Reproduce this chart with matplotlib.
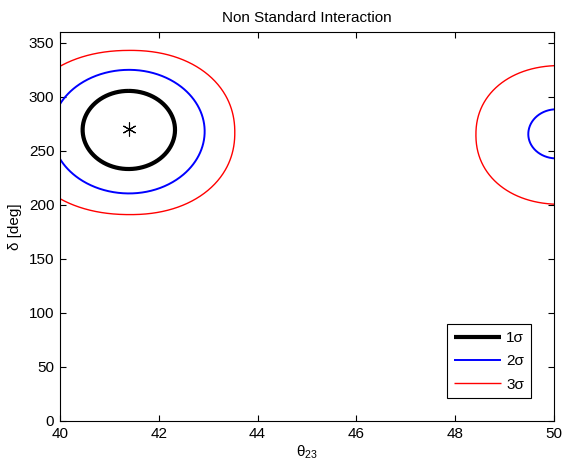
import numpy as np
import matplotlib
matplotlib.use("Agg")
import matplotlib.pyplot as plt

plt.rcParams['font.family'] = ['Liberation Sans', 'DejaVu Sans']
plt.rcParams['mathtext.default'] = 'regular'
plt.rcParams['font.size'] = 11

# contour shapes: (x-center, y-center, x-left, x-right, y-down, y-up semi-axes)
labels = ['1σ', '2σ', '3σ']
colors = ['black', 'blue', 'red']
widths = [3.0, 1.4, 1.0]
left_region = [
    (41.39, 269.5, 0.93, 0.94, 36.3, 36.0),
    (41.40, 268.0, 1.56, 1.53, 57.4, 57.0),
    (41.42, 267.0, 2.25, 2.12, 76.0, 76.0),
]
right_region = [
    None,
    (50.05, 265.5, 0.57, 0.57, 22.5, 23.0),
    (50.15, 265.0, 1.73, 1.73, 64.5, 64.0),
]
exponents = [2.0, 2.0, 2.15]
best_fit = (41.4, 270.0)

def shape(p, n, m=600):
    cx, cy, al, ar, bd, bu = p
    t = np.linspace(np.pi / 2, np.pi / 2 + 2 * np.pi, m)
    c, s = np.cos(t), np.sin(t)
    cx_ = np.sign(c) * np.abs(c) ** (2.0 / n)
    sy_ = np.sign(s) * np.abs(s) ** (2.0 / n)
    x = cx + np.where(c >= 0, ar, al) * cx_
    y = cy + np.where(s >= 0, bu, bd) * sy_
    return x, y

fig = plt.figure(figsize=(5.65, 4.66), dpi=100)
ax = fig.add_axes([0.106, 0.0966, 0.8745, 0.8347])

for i in range(3):
    x, y = shape(left_region[i], exponents[i])
    ax.plot(x, y, color=colors[i], lw=widths[i], label=labels[i],
            solid_capstyle='butt', solid_joinstyle='round')
    if right_region[i] is not None:
        x, y = shape(right_region[i], exponents[i])
        ax.plot(x, y, color=colors[i], lw=widths[i],
                solid_capstyle='butt', solid_joinstyle='round')

ax.plot([best_fit[0]], [best_fit[1]], marker=(6, 2, 0), color='black', ms=10, mew=0.8)

ax.set_xlim(40, 50)
ax.set_ylim(0, 360)
ax.set_xticks(np.arange(40, 51, 2))
ax.set_yticks(np.arange(0, 351, 50))
ax.tick_params(direction='in', top=True, right=True, length=4, labelsize=11, pad=4)
ax.set_xlabel('θ$_{23}$', labelpad=2)
ax.set_ylabel('δ [deg]', labelpad=5)
ax.set_title('Non Standard Interaction', fontsize=11, pad=7)

leg = ax.legend(loc='lower right', bbox_to_anchor=(0.953, 0.058), fancybox=False,
                edgecolor='black', framealpha=1, handlelength=3.1, fontsize=11,
                borderpad=0.45, labelspacing=0.6, handletextpad=0.3,
                borderaxespad=0.0)
leg.get_frame().set_linewidth(0.8)

fig.savefig('out.png', dpi=100)
